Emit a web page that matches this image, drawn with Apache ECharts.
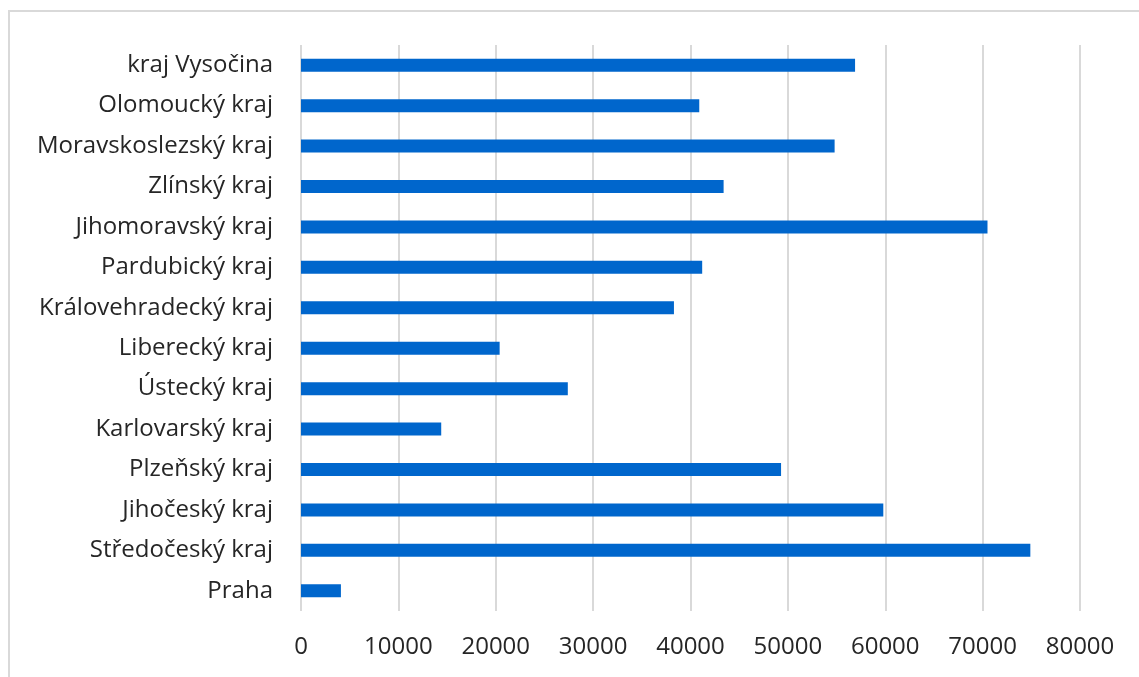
<!DOCTYPE html>
<html>
<head>
<meta charset="utf-8">
<script src="https://cdn.jsdelivr.net/npm/echarts@6/dist/echarts.min.js"></script>
<style>
  html, body { margin: 0; padding: 0; background: #ffffff; }
  #chart { width: 1139px; height: 677px; }
</style>
</head>
<body>
<div id="chart"></div>
<script>
// Regions listed bottom to top (category axis starts at the bottom)
const regions = [
  'Praha',
  'Středočeský kraj',
  'Jihočeský kraj',
  'Plzeňský kraj',
  'Karlovarský kraj',
  'Ústecký kraj',
  'Liberecký kraj',
  'Královehradecký kraj',
  'Pardubický kraj',
  'Jihomoravský kraj',
  'Zlínský kraj',
  'Moravskoslezský kraj',
  'Olomoucký kraj',
  'kraj Vysočina'
];
const values = [
  4100, 74900, 59800, 49300, 14400, 27400, 20400,
  38300, 41200, 70500, 43400, 54800, 40900, 56900
];
const xTicks = { min: 0, max: 80000, interval: 10000 };

const chart = echarts.init(document.getElementById('chart'), null, { renderer: 'canvas' });
const textColor = '#262626';
const fontFamily = '"Open Sans", sans-serif';

chart.setOption({
  animation: false,
  backgroundColor: '#ffffff',
  graphic: [{
    type: 'rect',
    shape: { x: 9, y: 11, width: 1200, height: 700 },
    style: { fill: 'none', stroke: '#d9d9d9', lineWidth: 2 },
    silent: true
  }],
  grid: { left: 301, right: 59, top: 45, bottom: 66, containLabel: false },
  xAxis: {
    type: 'value',
    min: xTicks.min,
    max: xTicks.max,
    interval: xTicks.interval,
    axisLine: { show: false },
    axisTick: { show: false },
    splitLine: { show: true, lineStyle: { color: '#d9d9d9', width: 2 } },
    axisLabel: {
      color: textColor, fontSize: 24, fontFamily: fontFamily, margin: 24,
      formatter: v => String(v)
    }
  },
  yAxis: {
    type: 'category',
    data: regions,
    axisLine: { show: false },
    axisTick: { show: false },
    splitLine: { show: false },
    axisLabel: { color: textColor, fontSize: 24, fontFamily: fontFamily, margin: 28 }
  },
  series: [{
    type: 'bar',
    data: values,
    barWidth: 13,
    itemStyle: { color: '#0066cc' }
  }]
});
</script>
</body>
</html>
